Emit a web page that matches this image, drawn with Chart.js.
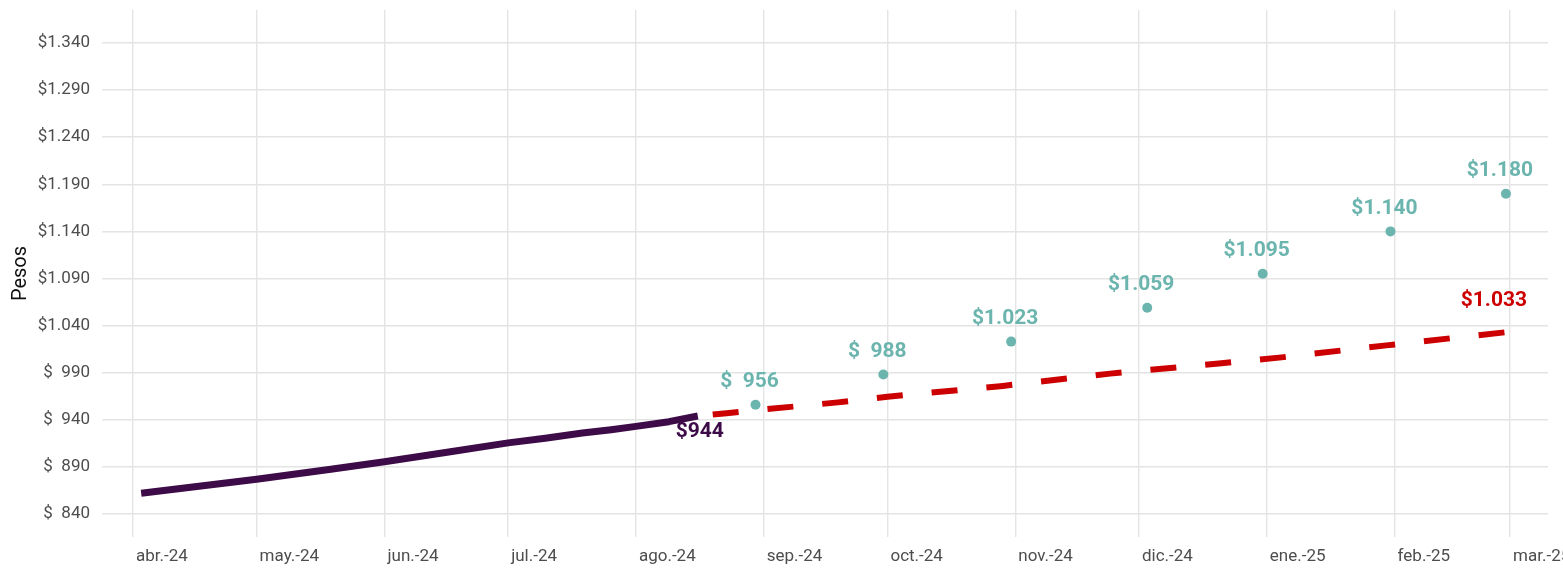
<!DOCTYPE html>
<html>
<head>
<meta charset="utf-8">
<script src="https://cdn.jsdelivr.net/npm/chart.js@4.4.1/dist/chart.umd.min.js"></script>
<style>
  html, body { margin: 0; padding: 0; background: #fff; overflow: hidden; }
  canvas { display: block; }
</style>
</head>
<body>
<canvas id="chart" width="1590" height="568"></canvas>
<script>
// x values are days counted from 1 Apr 2024
const monthDays = [0, 30, 61, 91, 122, 153, 183, 214, 244, 275, 306, 334];
const monthLabels = ["abr.-24", "may.-24", "jun.-24", "jul.-24", "ago.-24", "sep.-24",
  "oct.-24", "nov.-24", "dic.-24", "ene.-25", "feb.-25", "mar.-25"];

const yTicks = [840, 890, 940, 990, 1040, 1090, 1140, 1190, 1240, 1290, 1340];
const yTickLabels = ["$  840", "$  890", "$  940", "$  990", "$1.040", "$1.090",
  "$1.140", "$1.190", "$1.240", "$1.290", "$1.340"];

// observado (linea violeta)
const realDays = [2, 16, 30, 48, 61, 77, 91, 100, 109, 116, 122, 130, 137];
const realValues = [862, 869.5, 877, 887.5, 895.5, 906, 915.5, 920.5, 926, 929.5, 933, 938, 944];

// proyeccion (linea roja punteada)
const projDays = [137, 144, 153, 171, 183, 211, 214, 237, 244, 264, 278, 304, 333];
const projValues = [944, 947, 951, 958.5, 964.5, 976, 977.5, 989, 992, 1000, 1006, 1019, 1033];

// expectativas (puntos)
const expDays = [151, 182, 213, 246, 274, 305, 333];
const expValues = [956, 988, 1023, 1059, 1095, 1140, 1180];
const expLabels = ["$  956", "$  988", "$1.023", "$1.059", "$1.095", "$1.140", "$1.180"];

const purple = "#3d0b47";
const red = "#cc0000";
const teal = "#6cb5af";
const gridColor = "#e4e4e4";
const tickColor = "#4d4d4d";

const toXY = (xs, ys) => xs.map((d, i) => ({ x: d, y: ys[i] }));

// etiquetas de valores
const valueLabels = {
  id: "valueLabels",
  afterDatasetsDraw(chart) {
    const { ctx, scales: { x, y } } = chart;
    ctx.save();
    ctx.font = "bold 21px Roboto";
    ctx.textAlign = "center";
    ctx.textBaseline = "middle";

    ctx.fillStyle = teal;
    expDays.forEach((d, i) => {
      ctx.fillText(expLabels[i], x.getPixelForValue(d) - 6, y.getPixelForValue(expValues[i]) - 23);
    });

    const lastReal = realValues.length - 1;
    ctx.fillStyle = purple;
    ctx.fillText("$944", x.getPixelForValue(realDays[lastReal]) + 2, y.getPixelForValue(realValues[lastReal]) + 16);

    const lastProj = projValues.length - 1;
    ctx.fillStyle = red;
    ctx.fillText("$1.033", x.getPixelForValue(projDays[lastProj]) - 12, y.getPixelForValue(projValues[lastProj]) - 31);
    ctx.restore();
  }
};

new Chart(document.getElementById("chart"), {
  type: "line",
  data: {
    datasets: [
      {
        data: toXY(realDays, realValues),
        borderColor: purple,
        borderWidth: 7,
        borderCapStyle: "butt",
        borderJoinStyle: "round",
        pointRadius: 0,
        tension: 0
      },
      {
        data: toXY(projDays, projValues),
        borderColor: red,
        borderWidth: 6,
        borderDash: [26, 29],
        borderDashOffset: 40,
        borderCapStyle: "butt",
        pointRadius: 0,
        tension: 0
      },
      {
        data: toXY(expDays, expValues),
        showLine: false,
        pointRadius: 5,
        pointBackgroundColor: teal,
        pointBorderWidth: 0
      }
    ]
  },
  options: {
    responsive: false,
    animation: false,
    events: [],
    layout: { padding: { top: 10, right: 42, left: 0, bottom: 0 } },
    plugins: { legend: { display: false }, tooltip: { enabled: false } },
    scales: {
      x: {
        type: "linear",
        min: -7.5,
        max: 343.2,
        afterBuildTicks: s => { s.ticks = monthDays.map(v => ({ value: v })); },
        afterFit: s => { s.height = 31; s.paddingLeft = 0; s.paddingRight = 0; },
        grid: { color: gridColor, lineWidth: 1.4, drawTicks: false },
        border: { display: false },
        ticks: {
          align: "start",
          autoSkip: false,
          maxRotation: 0,
          padding: 10,
          labelOffset: 3,
          color: tickColor,
          font: { family: "Roboto", size: 17 },
          callback: (v, i) => monthLabels[i]
        }
      },
      y: {
        min: 815.6,
        max: 1375,
        afterBuildTicks: s => { s.ticks = yTicks.map(v => ({ value: v })); },
        afterFit: s => { s.width = 102; s.paddingTop = 0; s.paddingBottom = 0; },
        grid: { color: gridColor, lineWidth: 1.4, drawTicks: false },
        border: { display: false },
        ticks: {
          padding: 12,
          color: tickColor,
          font: { family: "Roboto", size: 17 },
          callback: (v, i) => yTickLabels[i]
        },
        title: {
          display: true,
          text: "Pesos",
          color: "#111",
          font: { family: "Roboto", size: 20 },
          padding: { top: 9, bottom: 0 }
        }
      }
    }
  },
  plugins: [valueLabels]
});
</script>
</body>
</html>
